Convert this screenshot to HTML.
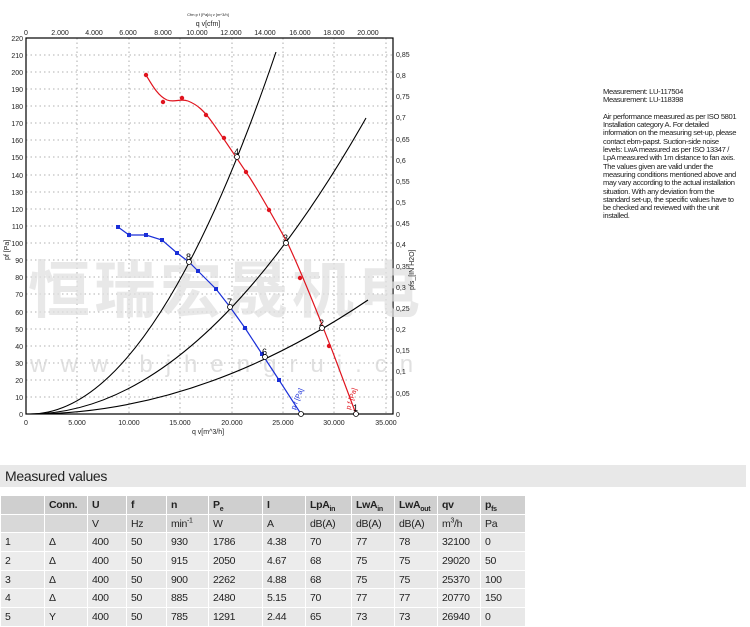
<!DOCTYPE html>
<html><head><meta charset="utf-8"><style>
body{margin:0;width:750px;height:625px;background:#fff;font-family:"Liberation Sans",sans-serif;overflow:hidden;position:relative}
.note{position:absolute;left:603px;top:88px;width:160px;font-size:7.6px;line-height:8.3px;color:#222;letter-spacing:-0.35px;white-space:nowrap}
.bar{position:absolute;left:0;top:465px;width:746px;height:22px;background:#e8e8e8;font-size:14px;line-height:22px;padding-left:5px;box-sizing:border-box;color:#222;letter-spacing:-0.3px}
table{position:absolute;left:0;top:495px;border-collapse:collapse;font-size:10.5px;color:#222;letter-spacing:-0.3px}
td{height:18.7px;line-height:12px;padding:0 0 0 4px;border:1px solid #fff;box-sizing:border-box;background:#ececec}
sub,sup{font-size:7px;line-height:0}
tr.h td{background:#cfcfcf;font-weight:bold}
tr.h2 td{background:#d8d8d8;font-weight:normal}
tr:nth-child(odd):not(.h) td{background:#e8e8e8}
</style></head><body>
<svg width="750" height="460" style="position:absolute;left:0;top:0" font-family="Liberation Sans, sans-serif">
<g stroke="#999" stroke-width="0.8" stroke-dasharray="1.5,3">
<line x1="77" y1="38" x2="77" y2="414"/><line x1="129" y1="38" x2="129" y2="414"/><line x1="180" y1="38" x2="180" y2="414"/><line x1="232" y1="38" x2="232" y2="414"/><line x1="283" y1="38" x2="283" y2="414"/><line x1="334" y1="38" x2="334" y2="414"/><line x1="386" y1="38" x2="386" y2="414"/>
<line x1="26" y1="55" x2="393" y2="55"/><line x1="26" y1="72" x2="393" y2="72"/><line x1="26" y1="89" x2="393" y2="89"/><line x1="26" y1="106" x2="393" y2="106"/><line x1="26" y1="123" x2="393" y2="123"/><line x1="26" y1="140" x2="393" y2="140"/><line x1="26" y1="157" x2="393" y2="157"/><line x1="26" y1="175" x2="393" y2="175"/><line x1="26" y1="192" x2="393" y2="192"/><line x1="26" y1="209" x2="393" y2="209"/><line x1="26" y1="226" x2="393" y2="226"/><line x1="26" y1="243" x2="393" y2="243"/><line x1="26" y1="260" x2="393" y2="260"/><line x1="26" y1="277" x2="393" y2="277"/><line x1="26" y1="294" x2="393" y2="294"/><line x1="26" y1="312" x2="393" y2="312"/><line x1="26" y1="329" x2="393" y2="329"/><line x1="26" y1="346" x2="393" y2="346"/><line x1="26" y1="363" x2="393" y2="363"/><line x1="26" y1="380" x2="393" y2="380"/><line x1="26" y1="397" x2="393" y2="397"/>
</g>
<rect x="26" y="38" width="367" height="376" fill="none" stroke="#000" stroke-width="1.2"/>
<text x="28" y="312" font-size="62" font-weight="bold" fill="#e0e0e0" fill-opacity="0.75" font-family="Noto Sans CJK SC, sans-serif" letter-spacing="4">恒瑞宏晟机电</text>
<text x="30" y="372" font-size="24" fill="#d6d6d6" fill-opacity="0.75" letter-spacing="13">www.bjhengrui.cn</text>
<g font-size="7" fill="#222" text-anchor="end">
<text x="23" y="41">220</text><text x="23" y="58">210</text><text x="23" y="75">200</text><text x="23" y="92">190</text><text x="23" y="109">180</text><text x="23" y="126">170</text><text x="23" y="143">160</text><text x="23" y="160">150</text><text x="23" y="178">140</text><text x="23" y="195">130</text><text x="23" y="212">120</text><text x="23" y="229">110</text><text x="23" y="246">100</text><text x="23" y="263">90</text><text x="23" y="280">80</text><text x="23" y="297">70</text><text x="23" y="315">60</text><text x="23" y="332">50</text><text x="23" y="349">40</text><text x="23" y="366">30</text><text x="23" y="383">20</text><text x="23" y="400">10</text><text x="23" y="417">0</text>
</g>
<g font-size="7" fill="#222" text-anchor="middle">
<text x="26" y="425">0</text><text x="77" y="425">5.000</text><text x="129" y="425">10.000</text><text x="180" y="425">15.000</text><text x="232" y="425">20.000</text><text x="283" y="425">25.000</text><text x="334" y="425">30.000</text><text x="386" y="425">35.000</text>
<text x="208" y="434">q v[m^3/h]</text>
<text x="26" y="35">0</text><text x="60" y="35">2.000</text><text x="94" y="35">4.000</text><text x="128" y="35">6.000</text><text x="163" y="35">8.000</text><text x="197" y="35">10.000</text><text x="231" y="35">12.000</text><text x="265" y="35">14.000</text><text x="300" y="35">16.000</text><text x="334" y="35">18.000</text><text x="368" y="35">20.000</text>
<text x="208" y="26">q v[cfm]</text>
<text x="208" y="16" font-size="4">Cfm:p f [Pa]/q v [m^3/h]</text>
</g>
<g font-size="7" fill="#222">
<text x="396" y="57">0,85</text><text x="396" y="78">0,8</text><text x="396" y="99">0,75</text><text x="396" y="120">0,7</text><text x="396" y="142">0,65</text><text x="396" y="163">0,6</text><text x="396" y="184">0,55</text><text x="396" y="205">0,5</text><text x="396" y="226">0,45</text><text x="396" y="247">0,4</text><text x="396" y="269">0,35</text><text x="396" y="290">0,3</text><text x="396" y="311">0,25</text><text x="396" y="332">0,2</text><text x="396" y="353">0,15</text><text x="396" y="374">0,1</text><text x="396" y="396">0,05</text><text x="396" y="417">0</text>
<text transform="translate(9,260) rotate(-90)">pf [Pa]</text>
<text transform="translate(414,290) rotate(-90)">pfs_[IN H2O]</text>
</g>
<g fill="none" stroke="#000" stroke-width="1.1">
<path d="M30 414 Q153 414 276 52"/><path d="M30 414 Q198 414 366 118"/><path d="M30 414 Q199 414 368 300"/>
</g>
<path d="M146 75 C152 85 158 96 167 100 C175 103 180 98 188 101 C198 105 204 111 212 122 C224 139 238 160 250 178 C264 200 276 222 288 244 C305 280 320 320 332 350 L356 414" fill="none" stroke="#e0141e" stroke-width="1.2"/>
<g fill="#e0141e"><circle cx="146" cy="75" r="2.2"/><circle cx="163" cy="102" r="2.2"/><circle cx="182" cy="98" r="2.2"/><circle cx="206" cy="115" r="2.2"/><circle cx="224" cy="138" r="2.2"/><circle cx="246" cy="172" r="2.2"/><circle cx="269" cy="210" r="2.2"/><circle cx="300" cy="278" r="2.2"/><circle cx="329" cy="346" r="2.2"/></g>
<polyline points="118,227 129,235 146,235 162,240 177,253 189,262 198,271 216,289 230,307 245,328 262,354 279,380 301,414" fill="none" stroke="#1a2fd8" stroke-width="1.2"/>
<g fill="#1a2fd8"><rect x="116" y="225" width="4" height="4"/><rect x="127" y="233" width="4" height="4"/><rect x="144" y="233" width="4" height="4"/><rect x="160" y="238" width="4" height="4"/><rect x="175" y="251" width="4" height="4"/><rect x="196" y="269" width="4" height="4"/><rect x="214" y="287" width="4" height="4"/><rect x="243" y="326" width="4" height="4"/><rect x="260" y="352" width="4" height="4"/><rect x="277" y="378" width="4" height="4"/></g>
<g fill="#fff" stroke="#000" stroke-width="0.8">
<circle cx="189" cy="262" r="2.5"/><circle cx="230" cy="307" r="2.5"/><circle cx="265" cy="357" r="2.5"/><circle cx="301" cy="414" r="2.5"/><circle cx="356" cy="414" r="2.5"/><circle cx="322" cy="328" r="2.5"/><circle cx="286" cy="243" r="2.5"/><circle cx="237" cy="157" r="2.5"/>
</g>
<g font-size="9" fill="#000"><text x="186" y="260">8</text><text x="227" y="305">7</text><text x="262" y="355">6</text><text x="319" y="326">2</text><text x="283" y="241">3</text><text x="234" y="155">4</text><text x="353" y="411">1</text></g>
<text transform="translate(295,410) rotate(-68)" font-size="7" fill="#1a2fd8">p f [Pa]</text>
<text transform="translate(350,410) rotate(-72)" font-size="7" fill="#e0141e">p f [Pa]</text>
</svg>
<div class="note">Measurement: LU-117504<br>Measurement: LU-118398<br><br>Air performance measured as per ISO 5801<br>Installation category A. For detailed<br>information on the measuring set-up, please<br>contact ebm-papst. Suction-side noise<br>levels: LwA measured as per ISO 13347 /<br>LpA measured with 1m distance to fan axis.<br>The values given are valid under the<br>measuring conditions mentioned above and<br>may vary according to the actual installation<br>situation. With any deviation from the<br>standard set-up, the specific values have to<br>be checked and reviewed with the unit<br>installed.</div>
<div class="bar">Measured values</div>
<table>
<colgroup><col style="width:44px"><col style="width:43px"><col style="width:39px"><col style="width:40px"><col style="width:42px"><col style="width:54px"><col style="width:43px"><col style="width:46px"><col style="width:43px"><col style="width:43px"><col style="width:43px"><col style="width:45px"></colgroup>
<tr class="h"><td></td><td>Conn.</td><td>U</td><td>f</td><td>n</td><td>P<sub>e</sub></td><td>I</td><td>LpA<sub>in</sub></td><td>LwA<sub>in</sub></td><td>LwA<sub>out</sub></td><td>qv</td><td>p<sub>fs</sub></td></tr>
<tr class="h h2"><td></td><td></td><td>V</td><td>Hz</td><td>min<sup>-1</sup></td><td>W</td><td>A</td><td>dB(A)</td><td>dB(A)</td><td>dB(A)</td><td>m<sup>3</sup>/h</td><td>Pa</td></tr>
<tr><td>1</td><td>Δ</td><td>400</td><td>50</td><td>930</td><td>1786</td><td>4.38</td><td>70</td><td>77</td><td>78</td><td>32100</td><td>0</td></tr>
<tr><td>2</td><td>Δ</td><td>400</td><td>50</td><td>915</td><td>2050</td><td>4.67</td><td>68</td><td>75</td><td>75</td><td>29020</td><td>50</td></tr>
<tr><td>3</td><td>Δ</td><td>400</td><td>50</td><td>900</td><td>2262</td><td>4.88</td><td>68</td><td>75</td><td>75</td><td>25370</td><td>100</td></tr>
<tr><td>4</td><td>Δ</td><td>400</td><td>50</td><td>885</td><td>2480</td><td>5.15</td><td>70</td><td>77</td><td>77</td><td>20770</td><td>150</td></tr>
<tr><td>5</td><td>Y</td><td>400</td><td>50</td><td>785</td><td>1291</td><td>2.44</td><td>65</td><td>73</td><td>73</td><td>26940</td><td>0</td></tr>
</table>
</body></html>
